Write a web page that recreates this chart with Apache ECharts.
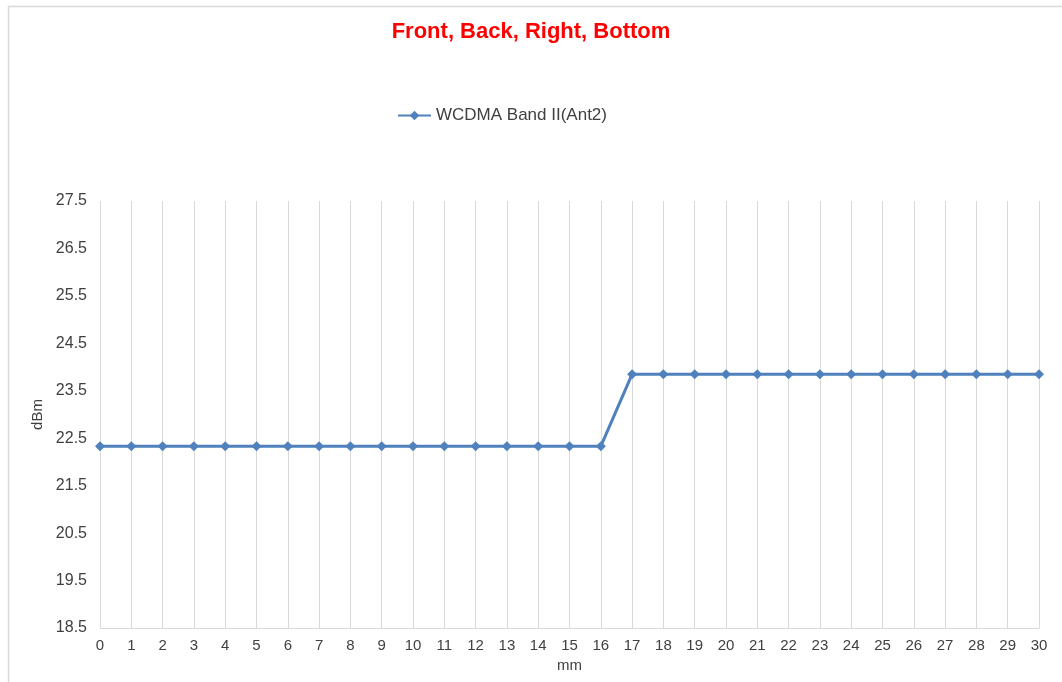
<!DOCTYPE html>
<html>
<head>
<meta charset="utf-8">
<script src="https://cdn.jsdelivr.net/npm/echarts@6/dist/echarts.min.js"></script>
<style>
html,body{margin:0;padding:0;background:#fff;}
#c{width:1062px;height:682px;}
</style>
</head>
<body>
<div id="c"></div>
<script>
var titleText = 'Front, Back, Right, Bottom';
var seriesName = 'WCDMA Band II(Ant2)';
var categories = ['0','1','2','3','4','5','6','7','8','9','10','11','12','13','14','15','16','17','18','19','20','21','22','23','24','25','26','27','28','29','30'];
var values = [22.33,22.33,22.33,22.33,22.33,22.33,22.33,22.33,22.33,22.33,22.33,22.33,22.33,22.33,22.33,22.33,22.33,
              23.85,23.85,23.85,23.85,23.85,23.85,23.85,23.85,23.85,23.85,23.85,23.85,23.85,23.85];
var yMin = 18.5, yMax = 27.5;
var xName = 'mm', yName = 'dBm';

var chart = echarts.init(document.getElementById('c'));
chart.setOption({
  backgroundColor: '#fff',
  animation: false,
  title: {
    text: titleText, left: 'center', top: 16,
    textStyle: {color: '#ff0000', fontSize: 22, fontWeight: 'bold', fontFamily: 'Liberation Sans, Arial'}
  },
  legend: {
    data: [seriesName], left: 392, top: 102,
    itemWidth: 33, itemHeight: 12, itemGap: 3,
    textStyle: {color: '#404040', fontSize: 17, fontFamily: 'Liberation Sans, Arial'}
  },
  graphic: [{
    type: 'polyline', silent: true,
    shape: {points: [[8.5, 700], [8.5, 6.5], [1100, 6.5]]},
    style: {stroke: '#d9d9d9', lineWidth: 1.5, fill: null}
  }],
  grid: {left: 100, right: 23, top: 201, bottom: 54, containLabel: false},
  xAxis: {
    type: 'category', data: categories, boundaryGap: false,
    name: xName, nameLocation: 'middle', nameGap: 25,
    nameTextStyle: {color: '#404040', fontSize: 15, fontFamily: 'Liberation Sans, Arial'},
    axisLine: {show: true, lineStyle: {color: '#d9d9d9', width: 1}},
    axisTick: {show: false},
    axisLabel: {color: '#404040', fontSize: 15, margin: 10, fontFamily: 'Liberation Sans, Arial', interval: 0},
    splitLine: {show: true, lineStyle: {color: '#d9d9d9', width: 1}}
  },
  yAxis: {
    type: 'value', min: yMin, max: yMax, interval: 0.5,
    name: yName, nameLocation: 'middle', nameGap: 53, nameRotate: 90,
    nameTextStyle: {color: '#404040', fontSize: 15, fontFamily: 'Liberation Sans, Arial'},
    axisLine: {show: false}, axisTick: {show: false},
    splitLine: {show: false},
    axisLabel: {
      color: '#404040', fontSize: 16, margin: 13, fontFamily: 'Liberation Sans, Arial',
      formatter: function (v) { return (Math.round(v * 2) % 2 === 1) ? v.toFixed(1) : ''; }
    }
  },
  series: [{
    name: seriesName, type: 'line', data: values,
    symbol: 'diamond', symbolSize: 10,
    lineStyle: {color: '#4f81bd', width: 3},
    itemStyle: {color: '#4f81bd'}
  }]
});
</script>
</body>
</html>
